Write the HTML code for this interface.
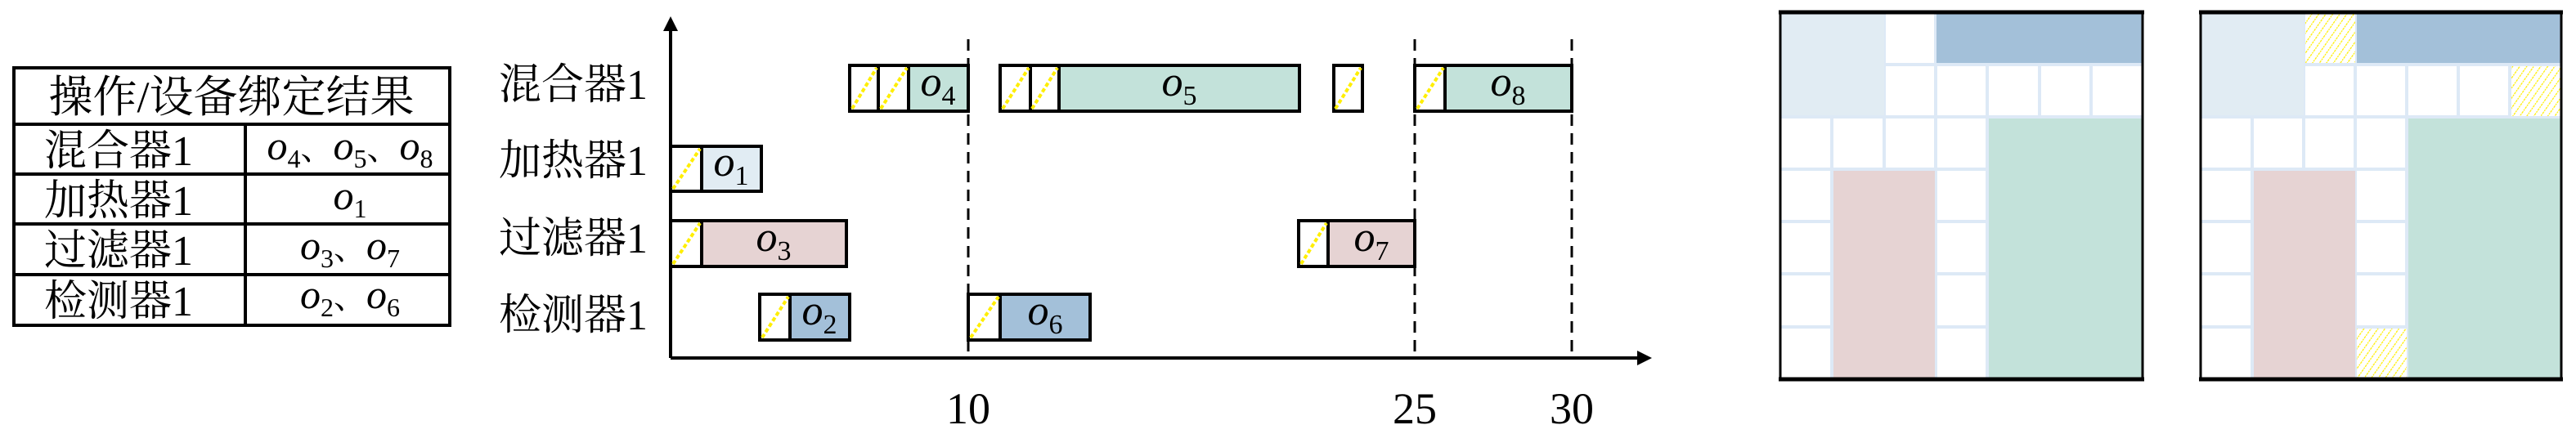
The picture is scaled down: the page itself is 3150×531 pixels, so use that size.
<!DOCTYPE html>
<html><head><meta charset="utf-8"><style>
html,body{margin:0;padding:0;background:#fff;width:3150px;height:531px;overflow:hidden}
svg{display:block}
text{font-family:"Liberation Serif","Noto Serif CJK SC",serif;fill:#000}
.cn{font-family:"Liberation Serif","Noto Serif CJK SC","Noto Sans CJK SC",serif}
.it{font-style:italic}
</style></head><body>
<svg width="3150" height="531" viewBox="0 0 3150 531" xmlns="http://www.w3.org/2000/svg">
<defs>
<pattern id="hp" patternUnits="userSpaceOnUse" width="7" height="7" patternTransform="rotate(35)">
<rect width="7" height="7" fill="#fff"/>
<line x1="0" y1="0" x2="0" y2="7" stroke="#ffee00" stroke-width="2.5" stroke-dasharray="2 1"/>
</pattern>
</defs>

<!-- Table -->
<g stroke="#000" stroke-width="4" fill="none">
<rect x="17" y="83" width="533" height="315"/>
<line x1="17" y1="152" x2="550" y2="152"/>
<line x1="17" y1="213" x2="550" y2="213"/>
<line x1="17" y1="274" x2="550" y2="274"/>
<line x1="17" y1="336" x2="550" y2="336"/>
<line x1="300" y1="152" x2="300" y2="398"/>
</g>
<g class="cn" font-size="54">
<text x="283" y="137" text-anchor="middle" class="cn">操作/设备绑定结果</text>
<text x="54" y="202" class="cn" font-size="52">混合器1</text>
<text x="54" y="263" class="cn" font-size="52">加热器1</text>
<text x="54" y="324" class="cn" font-size="52">过滤器1</text>
<text x="54" y="386" class="cn" font-size="52">检测器1</text>
</g>
<g font-size="50">
<text x="428" y="195" text-anchor="middle"><tspan class="it">o</tspan><tspan font-size="32" dy="10">4</tspan><tspan dy="-10" class="cn" font-size="40">、</tspan><tspan class="it">o</tspan><tspan font-size="32" dy="10">5</tspan><tspan dy="-10" class="cn" font-size="40">、</tspan><tspan class="it">o</tspan><tspan font-size="32" dy="10">8</tspan></text>
<text x="428" y="256" text-anchor="middle"><tspan class="it">o</tspan><tspan font-size="32" dy="10">1</tspan></text>
<text x="428" y="317" text-anchor="middle"><tspan class="it">o</tspan><tspan font-size="32" dy="10">3</tspan><tspan dy="-10" class="cn" font-size="40">、</tspan><tspan class="it">o</tspan><tspan font-size="32" dy="10">7</tspan></text>
<text x="428" y="377" text-anchor="middle"><tspan class="it">o</tspan><tspan font-size="32" dy="10">2</tspan><tspan dy="-10" class="cn" font-size="40">、</tspan><tspan class="it">o</tspan><tspan font-size="32" dy="10">6</tspan></text>
</g>

<!-- Gantt labels -->
<g font-size="52" class="cn">
<text x="610" y="121" class="cn">混合器1</text>
<text x="610" y="214" class="cn">加热器1</text>
<text x="610" y="309" class="cn">过滤器1</text>
<text x="610" y="403" class="cn">检测器1</text>
</g>

<!-- dashed lines -->
<g stroke="#000" stroke-width="3" stroke-dasharray="14 9">
<line x1="1184" y1="48" x2="1184" y2="438"/>
<line x1="1730" y1="48" x2="1730" y2="438"/>
<line x1="1922" y1="48" x2="1922" y2="438"/>
</g>

<!-- axes -->
<g stroke="#000" stroke-width="4">
<line x1="820" y1="438" x2="2005" y2="438"/>
<line x1="820" y1="438" x2="820" y2="36"/>
</g>
<polygon points="820,20 811,38 829,38" fill="#000"/>
<polygon points="2020,438 2002,429 2002,447" fill="#000"/>
<g font-size="54">
<text x="1184" y="518" text-anchor="middle">10</text>
<text x="1730" y="518" text-anchor="middle">25</text>
<text x="1922" y="518" text-anchor="middle">30</text>
</g>

<!-- bars -->
<g stroke="#000" stroke-width="4">
<rect x="1039" y="80" width="35" height="56" fill="#fff"/>
<rect x="1074" y="80" width="37" height="56" fill="#fff"/>
<rect x="1111" y="80" width="73" height="56" fill="#c3e2da"/>
<rect x="1223" y="80" width="37" height="56" fill="#fff"/>
<rect x="1260" y="80" width="35" height="56" fill="#fff"/>
<rect x="1295" y="80" width="294" height="56" fill="#c3e2da"/>
<rect x="1631" y="80" width="35" height="56" fill="#fff"/>
<rect x="1730" y="80" width="37" height="56" fill="#fff"/>
<rect x="1767" y="80" width="155" height="56" fill="#c3e2da"/>
<rect x="820" y="179" width="38" height="55" fill="#fff"/>
<rect x="858" y="179" width="73" height="55" fill="#e1ecf3"/>
<rect x="820" y="270" width="38" height="56" fill="#fff"/>
<rect x="858" y="270" width="177" height="56" fill="#e6d3d3"/>
<rect x="1588" y="270" width="36" height="56" fill="#fff"/>
<rect x="1624" y="270" width="106" height="56" fill="#e6d3d3"/>
<rect x="929" y="360" width="37" height="56" fill="#fff"/>
<rect x="966" y="360" width="73" height="56" fill="#a3c0d9"/>
<rect x="1184" y="360" width="39" height="56" fill="#fff"/>
<rect x="1223" y="360" width="110" height="56" fill="#a3c0d9"/>
</g>
<g stroke="#ffee00" stroke-width="4" stroke-dasharray="5 3">
<line x1="1042" y1="133" x2="1072" y2="83"/>
<line x1="1077" y1="133" x2="1109" y2="83"/>
<line x1="1226" y1="133" x2="1258" y2="83"/>
<line x1="1262" y1="133" x2="1293" y2="83"/>
<line x1="1633" y1="133" x2="1664" y2="83"/>
<line x1="1733" y1="133" x2="1765" y2="83"/>
<line x1="823" y1="231" x2="856" y2="182"/>
<line x1="823" y1="323" x2="856" y2="273"/>
<line x1="1591" y1="323" x2="1622" y2="273"/>
<line x1="932" y1="413" x2="964" y2="363"/>
<line x1="1187" y1="413" x2="1221" y2="363"/>
</g>

<!-- bar labels -->
<g font-size="52">
<text x="1147" y="117" text-anchor="middle"><tspan class="it">o</tspan><tspan font-size="34" dy="11">4</tspan></text>
<text x="1442" y="117" text-anchor="middle"><tspan class="it">o</tspan><tspan font-size="34" dy="11">5</tspan></text>
<text x="1844" y="117" text-anchor="middle"><tspan class="it">o</tspan><tspan font-size="34" dy="11">8</tspan></text>
<text x="894" y="215" text-anchor="middle"><tspan class="it">o</tspan><tspan font-size="34" dy="11">1</tspan></text>
<text x="946" y="307" text-anchor="middle"><tspan class="it">o</tspan><tspan font-size="34" dy="11">3</tspan></text>
<text x="1677" y="307" text-anchor="middle"><tspan class="it">o</tspan><tspan font-size="34" dy="11">7</tspan></text>
<text x="1002" y="397" text-anchor="middle"><tspan class="it">o</tspan><tspan font-size="34" dy="11">2</tspan></text>
<text x="1278" y="397" text-anchor="middle"><tspan class="it">o</tspan><tspan font-size="34" dy="11">6</tspan></text>
</g>

<!-- Grid 1 -->
<g transform="translate(2177,15)">
<g stroke="#dde9f6" stroke-width="4">
<line x1="63" y1="0" x2="63" y2="449"/><line x1="127" y1="0" x2="127" y2="449"/><line x1="190" y1="0" x2="190" y2="449"/><line x1="253" y1="0" x2="253" y2="449"/><line x1="317" y1="0" x2="317" y2="449"/><line x1="380" y1="0" x2="380" y2="449"/>
<line x1="0" y1="64" x2="443" y2="64"/><line x1="0" y1="128" x2="443" y2="128"/><line x1="0" y1="192" x2="443" y2="192"/><line x1="0" y1="256" x2="443" y2="256"/><line x1="0" y1="320" x2="443" y2="320"/><line x1="0" y1="385" x2="443" y2="385"/>
</g>
<rect x="0" y="0" width="127" height="126" fill="#e1ecf3"/>
<rect x="191" y="0" width="252" height="62" fill="#a3c0d9"/>
<rect x="255" y="130" width="188" height="319" fill="#c3e2da"/>
<rect x="65" y="194" width="124" height="255" fill="#e6d3d3"/>
<rect x="0" y="0" width="443" height="449" fill="none" stroke="#000" stroke-width="3"/>
<line x1="-2" y1="0" x2="445" y2="0" stroke="#000" stroke-width="5"/>
<line x1="-2" y1="449" x2="445" y2="449" stroke="#000" stroke-width="5"/>
</g>

<!-- Grid 2 -->
<g transform="translate(2691,15)">
<g stroke="#dde9f6" stroke-width="4">
<line x1="63" y1="0" x2="63" y2="449"/><line x1="126" y1="0" x2="126" y2="449"/><line x1="189" y1="0" x2="189" y2="449"/><line x1="252" y1="0" x2="252" y2="449"/><line x1="315" y1="0" x2="315" y2="449"/><line x1="378" y1="0" x2="378" y2="449"/>
<line x1="0" y1="64" x2="441" y2="64"/><line x1="0" y1="128" x2="441" y2="128"/><line x1="0" y1="192" x2="441" y2="192"/><line x1="0" y1="256" x2="441" y2="256"/><line x1="0" y1="320" x2="441" y2="320"/><line x1="0" y1="385" x2="441" y2="385"/>
</g>
<rect x="0" y="0" width="126" height="126" fill="#e1ecf3"/>
<rect x="128" y="0" width="61" height="62" fill="url(#hp)"/>
<rect x="191" y="0" width="250" height="62" fill="#a3c0d9"/>
<rect x="380" y="66" width="61" height="61" fill="url(#hp)"/>
<rect x="254" y="130" width="187" height="319" fill="#c3e2da"/>
<rect x="65" y="194" width="124" height="255" fill="#e6d3d3"/>
<rect x="191" y="387" width="61" height="62" fill="url(#hp)"/>
<rect x="0" y="0" width="441" height="449" fill="none" stroke="#000" stroke-width="3"/>
<line x1="-2" y1="0" x2="443" y2="0" stroke="#000" stroke-width="5"/>
<line x1="-2" y1="449" x2="443" y2="449" stroke="#000" stroke-width="5"/>
</g>
</svg>
</body></html>
